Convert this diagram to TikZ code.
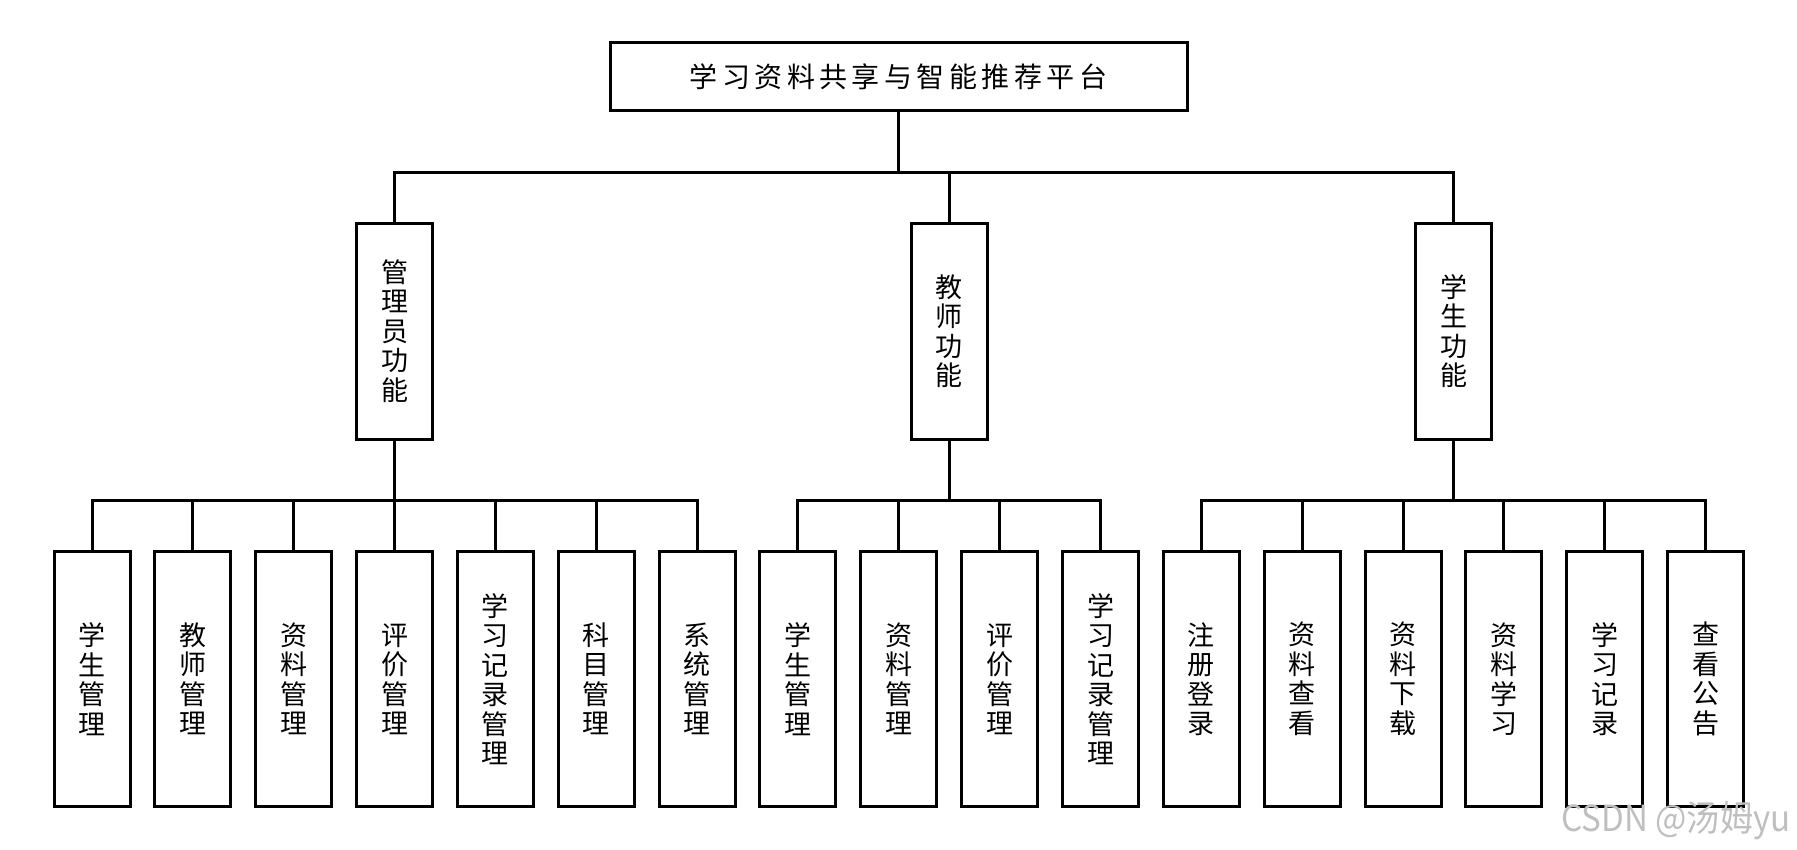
\documentclass[tikz,border=0pt]{standalone}
\usepackage{fontspec}
\newfontfamily\cjk{Noto Sans CJK SC}
\newfontfamily\cjktitle{Noto Sans CJK SC}[LetterSpace=16]
\newfontfamily\wmfont{Noto Sans CJK SC}[FakeStretch=0.92]
\tikzset{
  box/.style={draw=black, line width=3pt, fill=white, inner sep=0pt, align=center,
    font=\cjk\fontsize{27}{29.5}\selectfont},
  topbox/.style={box, minimum width=577pt, minimum height=68pt,
    font=\cjktitle\fontsize{28}{30}\selectfont},
  midbox/.style={box, minimum width=76pt, minimum height=216pt},
  leafbox/.style={box, minimum width=76pt, minimum height=255pt},
  link/.style={line width=3pt}
}
\begin{document}
\begin{tikzpicture}[x=1pt,y=-1pt]
    \useasboundingbox (0,0) rectangle (1797,849);
    \node[topbox] (plat) at (898.5,76.7) {学习资料共享与智能推荐平台};
    \node[midbox] (admin) at (394.6,331) {管\\理\\员\\功\\能};
    \node[midbox] (teach) at (949.3,331) {教\\师\\功\\能};
    \node[midbox] (stud) at (1453.5,331) {学\\生\\功\\能};
    \foreach \i/\txt in {0/学\\生\\管\\理, 1/教\\师\\管\\理, 2/资\\料\\管\\理,
        3/评\\价\\管\\理, 4/学\\习\\记\\录\\管\\理, 5/科\\目\\管\\理, 6/系\\统\\管\\理,
        7/学\\生\\管\\理, 8/资\\料\\管\\理, 9/评\\价\\管\\理, 10/学\\习\\记\\录\\管\\理,
        11/注\\册\\登\\录, 12/资\\料\\查\\看, 13/资\\料\\下\\载, 14/资\\料\\学\\习,
        15/学\\习\\记\\录, 16/查\\看\\公\\告}
    \node[leafbox] (leaf\i) at ({92+100.85*\i},679) {\txt};
    % first level
    \foreach \m in {admin,teach,stud}
    \draw[link] (plat.south) -- ++(0,60) -| (\m.north);
    % second level
    \foreach \i in {0,...,6}
    \draw[link] (admin.south) -- ++(0,60) -| (leaf\i.north);
    \foreach \i in {7,...,10}
    \draw[link] (teach.south) -- ++(0,60) -| (leaf\i.north);
    \foreach \i in {11,...,16}
    \draw[link] (stud.south) -- ++(0,60) -| (leaf\i.north);
    \node[anchor=base east, text=gray!50, font=\wmfont\fontsize{36}{36}\selectfont] (mark) at (1794,831) {CSDN @汤姆yu};
\end{tikzpicture}
\end{document}
